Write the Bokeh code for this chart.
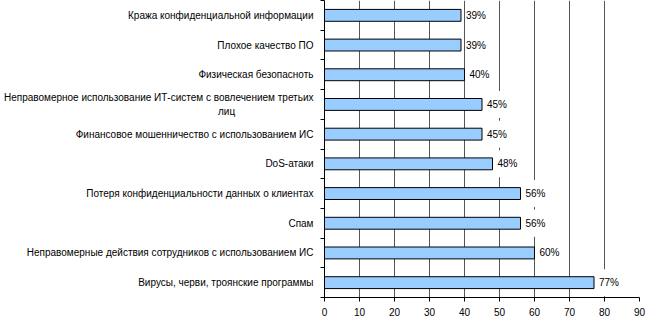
from bokeh.plotting import figure
from bokeh.models import FixedTicker, ColumnDataSource
from bokeh.core.properties import value
from bokeh.embed import file_html
from bokeh.resources import INLINE

# Data (bottom to top)
categories = [
    "Вирусы, черви, троянские программы",
    "Неправомерные действия сотрудников с использованием ИС",
    "Спам",
    "Потеря конфиденциальности данных о клиентах",
    "DoS-атаки",
    "Финансовое мошенничество с использованием ИС",
    "Неправомерное использование ИТ-систем с вовлечением третьих\nлиц" + "\u2003" * 7 + "\u00a0" * 3,
    "Физическая безопасноть",
    "Плохое качество ПО",
    "Кража конфиденциальной информации",
]
values = [77, 60, 56, 56, 48, 45, 45, 40, 39, 39]
x_ticks = [0, 10, 20, 30, 40, 50, 60, 70, 80, 90]

n = len(categories)
centers = [i + 0.5 for i in range(n)]
bounds = [i for i in range(n + 1)]
labels = [f"{v}%" for v in values]

FONT = "Liberation Sans"
FS = "10px"

p = figure(width=650, height=327, output_backend="svg", toolbar_location=None,
           x_range=(0, 90), y_range=(0, n),
           min_border_left=324, min_border_right=11, min_border_top=0,
           min_border_bottom=30)
p.outline_line_color = None
p.background_fill_color = "white"
p.border_fill_color = "white"

src = ColumnDataSource(dict(y=centers, v=values, lab=labels))
p.hbar(y="y", left=0, right="v", height=0.4, source=src,
       fill_color="#99CCFF", line_color="black", line_width=1)

p.text(x="v", y="y", text="lab", source=src, x_offset=4,
       text_font=value(FONT), text_font_size=FS, text_color="black",
       text_baseline="middle", text_align="left",
       background_fill_color="white",
       padding=dict(left=1, right=2, top=8, bottom=8))

# X axis
p.xaxis.ticker = FixedTicker(ticks=x_ticks)
p.xaxis.axis_line_color = "black"
p.xaxis.major_tick_line_color = "black"
p.xaxis.major_tick_out = 4
p.xaxis.major_tick_in = 0
p.xaxis.minor_tick_line_color = None
p.xaxis.major_label_text_font = FONT
p.xaxis.major_label_text_font_size = FS
p.xaxis.major_label_text_color = "black"
p.xaxis.major_label_standoff = 6

p.xgrid.ticker = FixedTicker(ticks=x_ticks[1:])
p.xgrid.grid_line_color = "#555555"
p.xgrid.grid_line_width = 1
p.ygrid.grid_line_color = None

# Y axis
p.yaxis.ticker = FixedTicker(ticks=centers, minor_ticks=bounds)
p.yaxis.major_label_overrides = {c: t for c, t in zip(centers, categories)}
p.yaxis.axis_line_color = "black"
p.yaxis.major_tick_line_color = None
p.yaxis.major_tick_out = 0
p.yaxis.major_tick_in = 0
p.yaxis.minor_tick_line_color = "black"
p.yaxis.minor_tick_out = 4
p.yaxis.minor_tick_in = 0
p.yaxis.major_label_text_font = FONT
p.yaxis.major_label_text_font_size = FS
p.yaxis.major_label_text_color = "black"
p.yaxis.major_label_standoff = 7

open("out.html", "w").write(file_html(p, INLINE))
